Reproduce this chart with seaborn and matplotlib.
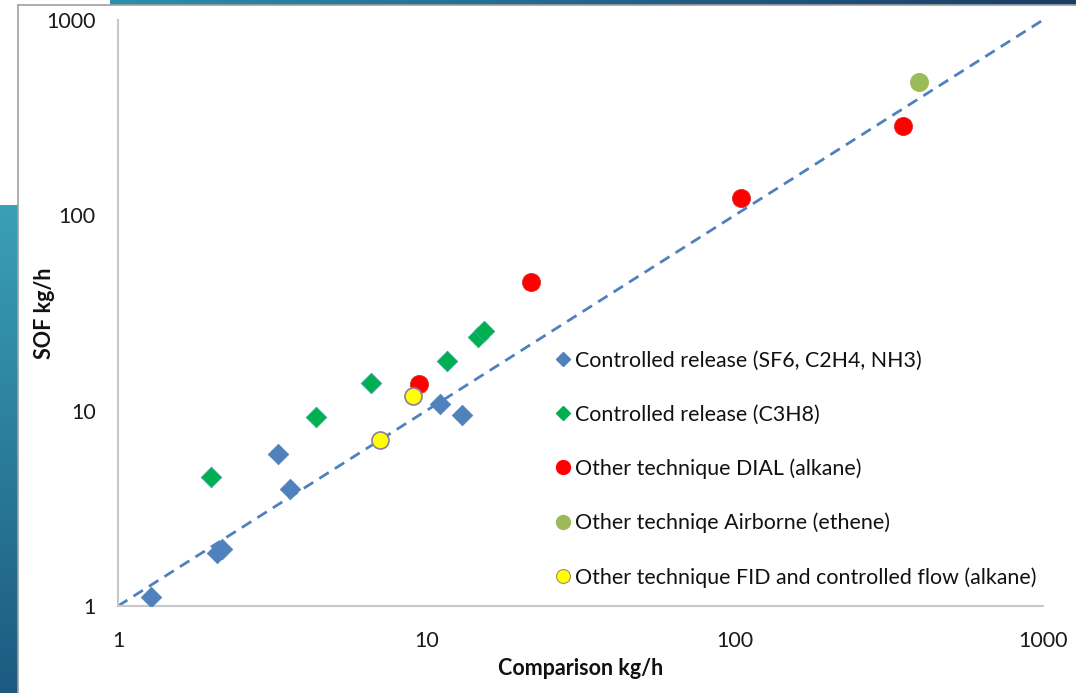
import numpy as np
import pandas as pd
import matplotlib
matplotlib.use("Agg")
import matplotlib.pyplot as plt
import seaborn as sns
from matplotlib.lines import Line2D

# ---------------- data ----------------
blue_x = [1.28, 2.10, 2.18, 3.31, 3.62, 11.1, 13.1]
blue_y = [1.11, 1.87, 1.96, 6.0, 3.99, 10.8, 9.5]

green_x = [2.0, 4.4, 6.63, 11.7, 14.7, 15.35]
green_y = [4.59, 9.31, 13.9, 18.0, 23.9, 25.6]

red_x = [9.47, 21.9, 104.6, 351.0]
red_y = [13.7, 45.6, 122.8, 288.0]

olive_x = [395.0]
olive_y = [480.0]

yellow_x = [9.07, 7.05]
yellow_y = [11.9, 7.08]

ref_line = [1, 1000]
ticks = [1, 10, 100, 1000]
tick_labels = ["1", "10", "100", "1000"]

labels = [
    "Controlled release (SF6, C2H4, NH3)",
    "Controlled release (C3H8)",
    "Other technique DIAL (alkane)",
    "Other techniqe Airborne (ethene)",
    "Other technique FID and controlled flow (alkane)",
]

# ---------------- style ----------------
sns.set_theme(style="white")
plt.rcParams["font.family"] = ["Lato", "DejaVu Sans"]

W, H = 1076, 693
fig = plt.figure(figsize=(W / 100, H / 100), dpi=100)
fig.patch.set_facecolor("white")

# slide decoration (background strips)
bg = fig.add_axes([0, 0, 1, 1], zorder=-10)
bg.axis("off")
grad_top = np.linspace(0, 1, 256).reshape(1, -1)
bg.imshow(grad_top, extent=[110, W, 5, 0], aspect="auto",
          cmap=matplotlib.colors.LinearSegmentedColormap.from_list("t", ["#2c8fab", "#1a3c66"]))
grad_left = np.linspace(0, 1, 256).reshape(-1, 1)
bg.imshow(grad_left, extent=[0, 18, H, 205], aspect="auto",
          cmap=matplotlib.colors.LinearSegmentedColormap.from_list("l", ["#3aa0b6", "#1c5a82"]))
bg.plot([18, 18], [5, H], color="#a0a0a0", lw=1.2)
bg.plot([18, W], [5, 5], color="#a0a0a0", lw=1.2)
bg.set_xlim(0, W)
bg.set_ylim(H, 0)

ax = fig.add_axes([118 / W, 1 - 606 / H, (1043 - 118) / W, (606 - 20) / H])
ax.set_facecolor("none")

blue = "#4f81bd"
green = "#00b050"
red = "#ff0000"
olive = "#9bbb59"
yellow = "#ffff00"

ax.plot(ref_line, ref_line, linestyle=(0, (4, 2.6)), color=blue, lw=2, zorder=1)

sns.scatterplot(x=blue_x, y=blue_y, ax=ax, marker="D", s=110, color=blue,
                edgecolor=blue, linewidth=0.5, zorder=3)
sns.scatterplot(x=green_x, y=green_y, ax=ax, marker="D", s=110, color=green,
                edgecolor="#3aa8a0", linewidth=0.6, zorder=3)
sns.scatterplot(x=red_x, y=red_y, ax=ax, marker="o", s=170, color=red,
                edgecolor="#d93030", linewidth=0.6, zorder=4)
sns.scatterplot(x=olive_x, y=olive_y, ax=ax, marker="o", s=170, color=olive,
                edgecolor=olive, linewidth=0.6, zorder=4)
sns.scatterplot(x=yellow_x, y=yellow_y, ax=ax, marker="o", s=150, color=yellow,
                edgecolor="#8e7ca0", linewidth=1.2, zorder=5)

ax.set_xscale("log")
ax.set_yscale("log")
ax.set_xlim(1, 1000)
ax.set_ylim(1, 1000)
ax.set_xticks(ticks)
ax.set_xticklabels(tick_labels)
ax.set_yticks(ticks)
ax.set_yticklabels(tick_labels)
ax.minorticks_off()
ax.tick_params(axis="x", length=0, pad=18, labelsize=15.5, labelcolor="#1a1a1a")
ax.tick_params(axis="y", length=0, pad=16, labelsize=15.5, labelcolor="#1a1a1a")

for s in ["top", "right"]:
    ax.spines[s].set_visible(False)
for s in ["left", "bottom"]:
    ax.spines[s].set_color("#c8c8c8")
    ax.spines[s].set_linewidth(1.5)

ax.set_xlabel("Comparison kg/h", fontsize=15.5, fontweight="bold", labelpad=5, color="#111111")
ax.set_ylabel("SOF kg/h", fontsize=15.5, fontweight="bold", labelpad=-6, color="#111111")

handles = [
    Line2D([], [], marker="D", linestyle="none", markersize=7, color=blue, markeredgecolor=blue),
    Line2D([], [], marker="D", linestyle="none", markersize=7, color=green, markeredgecolor=green),
    Line2D([], [], marker="o", linestyle="none", markersize=10, color=red, markeredgecolor=red),
    Line2D([], [], marker="o", linestyle="none", markersize=10, color=olive, markeredgecolor=olive),
    Line2D([], [], marker="o", linestyle="none", markersize=10, color=yellow, markeredgecolor="#a09060", markeredgewidth=0.8),
]
leg = ax.legend(handles, labels, loc="upper left",
                bbox_to_anchor=((542 - 118) / (1043 - 118), (606 - 340) / (606 - 20)),
                frameon=False, fontsize=15.4, labelspacing=1.58, handletextpad=0.05,
                handlelength=1.0, borderpad=0)
for t in leg.get_texts():
    t.set_color("#111111")

fig.savefig("out.png", dpi=100)
